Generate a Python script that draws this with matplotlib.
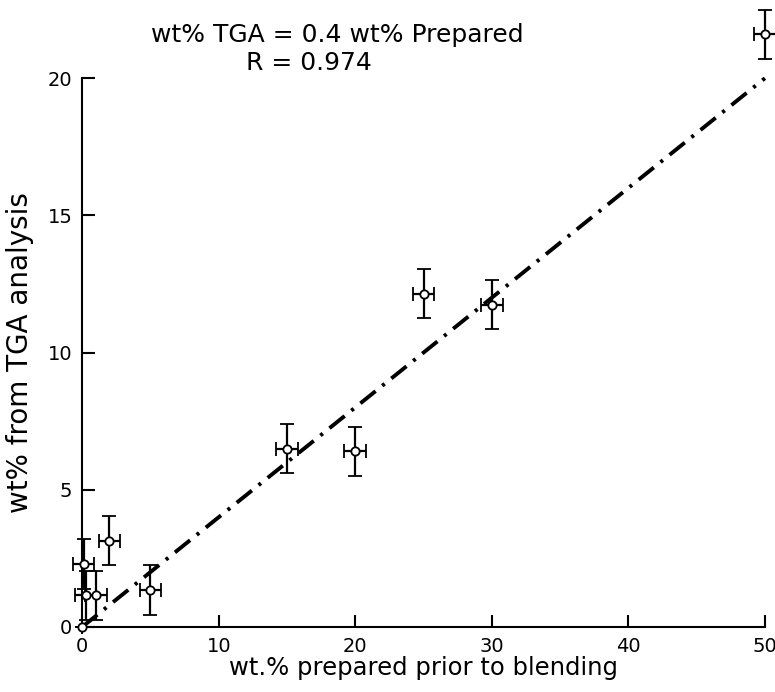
import numpy as np
import matplotlib.pyplot as plt

plt.rcParams['font.family'] = ['DejaVu Sans']

# --- data ---
prepared = [0, 0.1, 0.25, 1, 2, 5, 15, 20, 25, 30, 50]
tga = [0, 2.3, 1.15, 1.15, 3.15, 1.35, 6.5, 6.4, 12.15, 11.75, 21.6]
x_err = [0, 0.8, 0.8, 0.8, 0.8, 0.8, 0.8, 0.8, 0.8, 0.8, 0.8]
y_err = [0, 0.9, 0.9, 0.9, 0.9, 0.9, 0.9, 0.9, 0.9, 0.9, 0.9]
slope = 0.4
fit_x = [0, 50]
x_ticks = [0, 10, 20, 30, 40, 50]
y_ticks = [0, 5, 10, 15, 20]

fig = plt.figure(figsize=(7.75, 6.92), dpi=100)
ax = fig.add_axes([0.106, 0.094, 0.881, 0.793])

ax.plot(fit_x, [slope * v for v in fit_x], color='black', lw=2.8,
        linestyle=(0, (5, 2.2, 0.8, 2.2)), clip_on=False, zorder=2)

ax.errorbar(prepared, tga, xerr=x_err, yerr=y_err, fmt='o', color='black',
            mfc='white', mec='black', ms=6, mew=1.3, elinewidth=1.6,
            capsize=5, capthick=1.6, clip_on=False, zorder=3)

ax.set_xlim(0, 50)
ax.set_ylim(0, 20)
ax.set_xticks(x_ticks)
ax.set_yticks(y_ticks)
ax.spines['top'].set_visible(False)
ax.spines['right'].set_visible(False)
ax.spines['left'].set_linewidth(1.5)
ax.spines['bottom'].set_linewidth(1.5)
ax.tick_params(direction='in', length=9, width=1.5, labelsize=14, pad=7)

ax.set_xlabel('wt.% prepared prior to blending', fontsize=17.5, labelpad=0)
ax.set_ylabel('wt% from TGA analysis', fontsize=20, labelpad=10)

ax.text(18.67, 21.57, 'wt% TGA = 0.4 wt% Prepared', ha='center',
        va='center', fontsize=18)
ax.text(16.6, 20.55, 'R = 0.974', ha='center', va='center', fontsize=18)

fig.savefig('out.png', dpi=100)
